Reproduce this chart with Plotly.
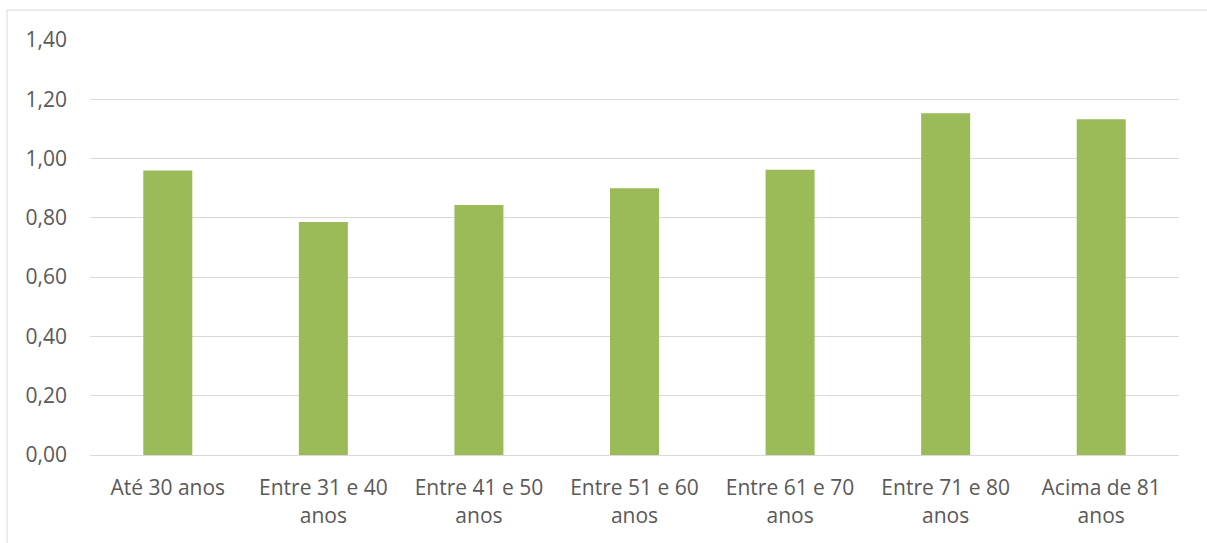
import plotly.graph_objects as go

categories = ["Até 30 anos", "Entre 31 e 40<br>anos", "Entre 41 e 50<br>anos",
              "Entre 51 e 60<br>anos", "Entre 61 e 70<br>anos", "Entre 71 e 80<br>anos",
              "Acima de 81<br>anos"]
values = [0.96, 0.786, 0.843, 0.90, 0.962, 1.153, 1.133]
y_ticks = [0, 0.2, 0.4, 0.6, 0.8, 1.0, 1.2, 1.4]
y_tick_labels = ["0,00", "0,20", "0,40", "0,60", "0,80", "1,00", "1,20", "1,40"]

W, H = 1207, 543
L, R, T, B = 90, 28, 40, 88
pw, ph = W - L - R, H - T - B

fig = go.Figure(go.Bar(x=categories, y=values, marker=dict(color="#9BBB59", line=dict(width=0))))

fig.update_layout(
    width=W, height=H,
    margin=dict(l=L, r=R, t=T, b=B, pad=0),
    paper_bgcolor="white", plot_bgcolor="white",
    bargap=0.685,
    showlegend=False,
    font=dict(family="Open Sans", size=21, color="#595959"),
    shapes=[dict(type="rect", xref="paper", yref="paper",
                 x0=(7 - L) / pw, x1=1.2, y0=-0.5, y1=(H - B - 10) / ph,
                 line=dict(color="#d9d9d9", width=1), fillcolor="rgba(0,0,0,0)", layer="below")],
)
fig.update_yaxes(range=[0, 1.4], tickvals=y_ticks, ticktext=y_tick_labels,
                 showgrid=True, gridcolor="#d9d9d9", gridwidth=1, zeroline=False,
                 showline=False, ticks="", ticklabelstandoff=22)
fig.update_xaxes(showline=True, linecolor="#d9d9d9", linewidth=1, ticks="",
                 ticklabelstandoff=14, tickangle=0)

fig.write_html("out.html")
